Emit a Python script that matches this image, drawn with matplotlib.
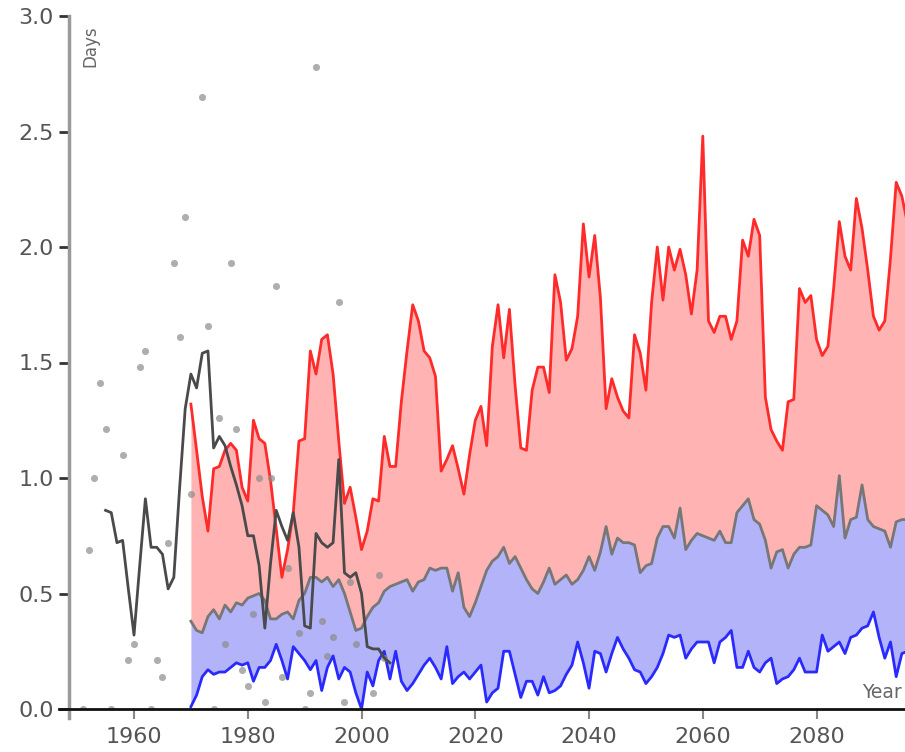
import numpy as np
import matplotlib
matplotlib.use("Agg")
import matplotlib.pyplot as plt

# observed, annual values (gray dots)
obs_years = [1951, 1952, 1953, 1954, 1955, 1956, 1958, 1959, 1960, 1961, 1962, 1963, 1964, 1965,
             1966, 1967, 1968, 1969, 1970, 1972, 1973, 1974, 1975, 1976, 1977, 1978, 1979, 1980,
             1981, 1982, 1983, 1984, 1985, 1986, 1987, 1989, 1990, 1991, 1992, 1993, 1994, 1995,
             1996, 1997, 1998, 1999, 2002, 2003, 2004]
obs_days = [0.0, 0.69, 1.00, 1.41, 1.21, 0.0, 1.10, 0.21, 0.28, 1.48, 1.55, 0.0, 0.21, 0.14,
            0.72, 1.93, 1.61, 2.13, 0.93, 2.65, 1.66, 0.0, 1.26, 0.28, 1.93, 1.21, 0.17, 0.10,
            0.41, 1.00, 0.03, 1.00, 1.83, 0.14, 0.61, 0.33, 0.0, 0.07, 2.78, 0.38, 0.23, 0.31,
            1.76, 0.03, 0.55, 0.28, 0.07, 0.58, 0.22]

# observed, smoothed (dark line)
smooth_years = list(range(1955, 2006))
smooth_days = [0.86, 0.85, 0.72, 0.73, 0.52, 0.32, 0.62, 0.91, 0.70, 0.70,
               0.67, 0.52, 0.57, 0.95, 1.30, 1.45, 1.39, 1.54, 1.55, 1.13,
               1.18, 1.14, 1.05, 0.97, 0.88, 0.75, 0.75, 0.62, 0.35, 0.63,
               0.86, 0.79, 0.73, 0.85, 0.70, 0.36, 0.35, 0.76, 0.72, 0.70,
               0.72, 1.08, 0.59, 0.57, 0.59, 0.50, 0.27, 0.26, 0.26, 0.22, 0.20]

# model projections
proj_years = list(range(1970, 2097))
high = [1.32, 1.12, 0.92, 0.77, 1.04, 1.05, 1.12, 1.15, 1.12, 0.96,
        0.90, 1.25, 1.17, 1.15, 0.99, 0.78, 0.57, 0.69, 0.85, 1.16,
        1.17, 1.55, 1.45, 1.60, 1.62, 1.45, 1.16, 0.89, 0.96, 0.83,
        0.69, 0.77, 0.91, 0.90, 1.18, 1.05, 1.05, 1.33, 1.55, 1.75,
        1.68, 1.55, 1.52, 1.44, 1.03, 1.08, 1.14, 1.04, 0.93, 1.10,
        1.25, 1.31, 1.14, 1.57, 1.75, 1.52, 1.73, 1.40, 1.13, 1.12,
        1.38, 1.48, 1.48, 1.37, 1.88, 1.76, 1.51, 1.56, 1.70, 2.10,
        1.87, 2.05, 1.78, 1.30, 1.43, 1.35, 1.29, 1.26, 1.62, 1.54,
        1.38, 1.76, 2.00, 1.77, 2.00, 1.90, 1.99, 1.88, 1.71, 1.90,
        2.48, 1.68, 1.63, 1.70, 1.70, 1.60, 1.68, 2.03, 1.96, 2.12,
        2.05, 1.35, 1.21, 1.16, 1.12, 1.33, 1.34, 1.82, 1.76, 1.79,
        1.60, 1.53, 1.57, 1.82, 2.11, 1.96, 1.90, 2.21, 2.08, 1.90,
        1.70, 1.64, 1.68, 1.95, 2.28, 2.22, 2.10]
mid = [0.38, 0.34, 0.33, 0.40, 0.43, 0.39, 0.45, 0.42, 0.46, 0.45,
       0.48, 0.49, 0.50, 0.47, 0.39, 0.39, 0.41, 0.42, 0.39, 0.47,
       0.50, 0.57, 0.57, 0.55, 0.57, 0.53, 0.56, 0.50, 0.42, 0.34,
       0.35, 0.40, 0.44, 0.46, 0.51, 0.53, 0.54, 0.55, 0.56, 0.51,
       0.55, 0.56, 0.61, 0.60, 0.61, 0.61, 0.51, 0.59, 0.44, 0.40,
       0.46, 0.53, 0.60, 0.64, 0.66, 0.70, 0.63, 0.66, 0.61, 0.56,
       0.52, 0.50, 0.55, 0.61, 0.54, 0.56, 0.58, 0.54, 0.56, 0.60,
       0.66, 0.60, 0.68, 0.79, 0.67, 0.74, 0.72, 0.72, 0.71, 0.59,
       0.62, 0.63, 0.74, 0.79, 0.79, 0.74, 0.87, 0.69, 0.73, 0.76,
       0.75, 0.74, 0.73, 0.77, 0.72, 0.72, 0.85, 0.88, 0.91, 0.82,
       0.80, 0.73, 0.61, 0.68, 0.69, 0.61, 0.67, 0.70, 0.70, 0.71,
       0.88, 0.86, 0.84, 0.79, 1.01, 0.74, 0.82, 0.83, 0.97, 0.82,
       0.79, 0.78, 0.77, 0.70, 0.81, 0.82, 0.82]
low = [0.01, 0.06, 0.14, 0.17, 0.15, 0.16, 0.16, 0.18, 0.20, 0.19,
       0.20, 0.12, 0.18, 0.18, 0.21, 0.28, 0.21, 0.13, 0.27, 0.24,
       0.21, 0.17, 0.21, 0.08, 0.18, 0.23, 0.13, 0.18, 0.16, 0.07,
       0.00, 0.16, 0.10, 0.21, 0.25, 0.13, 0.25, 0.12, 0.08, 0.11,
       0.15, 0.19, 0.22, 0.18, 0.13, 0.27, 0.11, 0.14, 0.16, 0.13,
       0.16, 0.19, 0.03, 0.07, 0.09, 0.25, 0.25, 0.15, 0.05, 0.12,
       0.12, 0.06, 0.14, 0.07, 0.08, 0.10, 0.15, 0.19, 0.29, 0.20,
       0.09, 0.25, 0.24, 0.16, 0.24, 0.31, 0.26, 0.22, 0.17, 0.16,
       0.11, 0.14, 0.18, 0.24, 0.32, 0.31, 0.32, 0.22, 0.26, 0.29,
       0.29, 0.29, 0.20, 0.29, 0.31, 0.34, 0.18, 0.18, 0.25, 0.18,
       0.16, 0.20, 0.22, 0.11, 0.13, 0.14, 0.17, 0.22, 0.16, 0.16,
       0.16, 0.32, 0.25, 0.27, 0.29, 0.24, 0.31, 0.32, 0.35, 0.36,
       0.42, 0.31, 0.22, 0.29, 0.14, 0.24, 0.25]

x_ticks = [1960, 1980, 2000, 2020, 2040, 2060, 2080]
y_ticks = [0.0, 0.5, 1.0, 1.5, 2.0, 2.5, 3.0]

fig = plt.figure(figsize=(9.05, 7.52), dpi=100)
ax = fig.add_axes([69 / 905, 1 - 709 / 752, 836 / 905, 693 / 752])

ax.fill_between(proj_years, mid, high, color="#ffb3b3", lw=0, zorder=1)
ax.fill_between(proj_years, low, mid, color="#b3b3fa", lw=0, zorder=1)
ax.plot(proj_years, high, color="#ff2a2a", lw=2.0, zorder=3)
ax.plot(proj_years, mid, color="#777777", lw=2.0, zorder=3)
ax.plot(proj_years, low, color="#2a2aff", lw=2.0, zorder=3)

ax.scatter(obs_years, obs_days, s=26, color="#8c8c8c", alpha=0.7, lw=0, zorder=4)
ax.plot(smooth_years, smooth_days, color="#4a4a4a", lw=2.0, zorder=5)

ax.set_xlim(1948.57, 2095.55)
ax.set_ylim(0, 3)

for s in ax.spines.values():
    s.set_visible(False)
# axis lines, a bit past the corner like the original
ax.plot([0, 0], [-0.04, 3.0], transform=ax.get_yaxis_transform(), color="#9a9a9a", lw=2.5,
        clip_on=False, zorder=6)
ax.plot([-0.012, 1], [0, 0], transform=ax.get_yaxis_transform(), color="#111111", lw=2.0,
        clip_on=False, zorder=6)

ax.set_xticks(x_ticks)
ax.set_xticklabels([str(t) for t in x_ticks])
ax.set_yticks(y_ticks)
ax.set_yticklabels([f"{t:.1f}" for t in y_ticks])
ax.tick_params(axis="y", length=7, width=2, color="#333333", labelsize=16, labelcolor="#555555", pad=4)
ax.tick_params(axis="x", length=7, width=1.5, color="#888888", labelsize=16, labelcolor="#555555", pad=6)

fig.text(90 / 905, 1 - 46 / 752, "Days", rotation=90, ha="center", va="center",
         fontsize=12, color="#666666")
fig.text(902 / 905, 1 - 692 / 752, "Year", ha="right", va="center", fontsize=13.5, color="#666666")

fig.savefig("out.png", dpi=100)
